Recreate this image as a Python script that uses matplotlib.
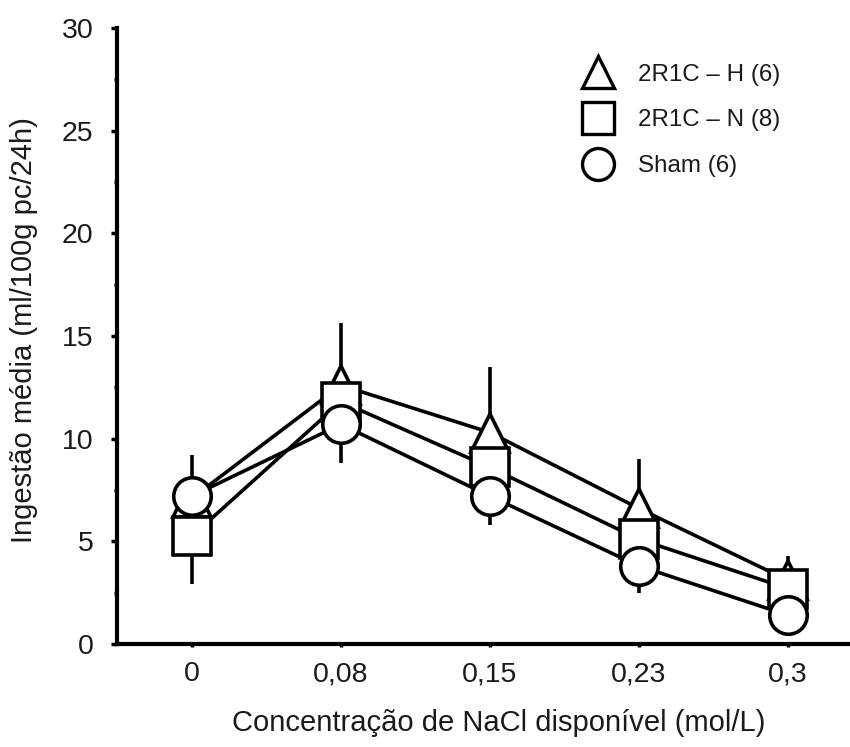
import matplotlib
matplotlib.use('Agg')
import matplotlib.pyplot as plt
from matplotlib.lines import Line2D
from matplotlib.ticker import MultipleLocator

plt.rcParams['font.family'] = ['Liberation Sans', 'DejaVu Sans']

# data
conc_labels = ['0', '0,08', '0,15', '0,23', '0,3']
h_mean = [7.1, 12.6, 10.3, 6.6, 3.1]
h_err_up = [2.1, 3.05, 3.2, 2.4, 1.2]
n_mean = [5.25, 11.8, 8.6, 5.1, 2.7]
n_err_down = [2.35, 0.0, 0.0, 0.0, 0.0]
sham_mean = [7.2, 10.7, 7.2, 3.8, 1.4]
sham_err_down = [0.0, 1.9, 1.4, 1.3, 0.0]
zeros = [0.0] * 5

series_labels = ['2R1C – H (6)', '2R1C – N (8)', 'Sham (6)']

x = list(range(len(conc_labels)))
lw = 2.6
text_color = '#1a1a1a'

fig = plt.figure(figsize=(8.5, 7.47), dpi=100)
ax = fig.add_axes([0.1376, 0.1379, 0.8624, 0.8246])

series = [
    (h_mean, [zeros, h_err_up], '^', 3),
    (n_mean, [n_err_down, zeros], 's', 4),
    (sham_mean, [sham_err_down, zeros], 'o', 5),
]
for mean, err, marker, z in series:
    ax.errorbar(x, mean, yerr=err, fmt='none', ecolor='black', elinewidth=lw,
                capsize=0, zorder=1)
    ax.plot(x, mean, '-', color='black', lw=lw, zorder=2)
    ax.plot(x, mean, marker, ls='none', ms=27, mfc='white', mec='black',
            mew=lw, zorder=z)

ax.set_xlim(-0.503, 4.416)
ax.set_ylim(0, 30)
ax.set_xticks(x)
ax.set_xticklabels(conc_labels)
ax.yaxis.set_major_locator(MultipleLocator(5))
ax.yaxis.set_minor_locator(MultipleLocator(2.5))

for side in ['top', 'right']:
    ax.spines[side].set_visible(False)
for side in ['left', 'bottom']:
    ax.spines[side].set_linewidth(3)

ax.tick_params(axis='y', which='major', direction='out', length=4, width=2.5,
               pad=13, labelsize=20.5, labelcolor=text_color)
ax.tick_params(axis='y', which='minor', direction='out', length=2.5, width=2.5)
ax.tick_params(axis='x', which='major', direction='out', length=2.5, width=2.5,
               pad=10, labelsize=20.5, labelcolor=text_color)

ax.set_xlabel('Concentração de NaCl disponível (mol/L)', fontsize=21,
              color=text_color)
ax.xaxis.set_label_coords(0.521, -0.106)
ax.set_ylabel('Ingestão média (ml/100g pc/24h)', fontsize=21, color=text_color)
ax.yaxis.set_label_coords(-0.108, 0.51)

handles = [Line2D([], [], ls='none', marker=m, ms=23, mfc='white', mec='black', mew=2.4)
           for m in ['^', 's', 'o']]
ax.legend(handles, series_labels, loc='upper left', bbox_to_anchor=(0.672, 0.931),
          bbox_transform=fig.transFigure, frameon=False, fontsize=17.4,
          borderpad=0, handlelength=1.2, handletextpad=1.05, labelspacing=0.98,
          labelcolor=text_color)

fig.savefig('out.png', dpi=100)
